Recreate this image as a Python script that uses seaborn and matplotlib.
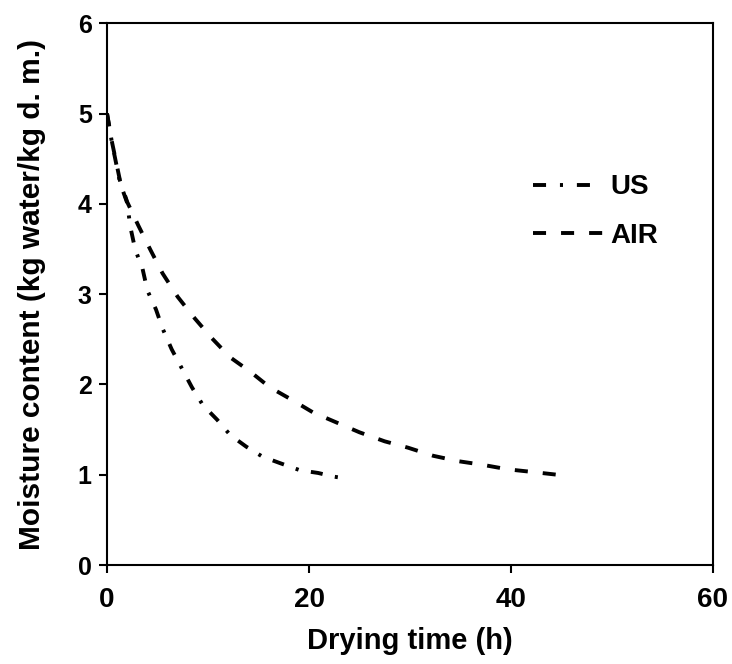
import matplotlib
matplotlib.use("Agg")
import matplotlib.pyplot as plt
from matplotlib.lines import Line2D
import pandas as pd
import seaborn as sns

# drying curves
us_time = [0, 0.5, 1.3, 2.0, 2.3, 2.8, 3.5, 4.0, 4.85, 5.5, 6.4, 7.4, 8.4, 9.5,
           10.9, 12.2, 13.8, 15.4, 17.1, 19.1, 20.9, 22.4, 23.0]
us_moist = [5.0, 4.67, 4.23, 4.01, 3.75, 3.49, 3.29, 3.04, 2.83, 2.62, 2.39, 2.18,
            1.97, 1.77, 1.61, 1.44, 1.31, 1.20, 1.13, 1.05, 1.02, 0.98, 0.97]

air_time = [0, 0.5, 1.3, 2.0, 3.1, 4.3, 5.5, 7.0, 8.7, 10.4, 12.2, 14.2, 16.1,
            18.3, 20.4, 22.7, 25.0, 27.5, 29.8, 32.3, 34.8, 37.2, 39.7, 42.2, 44.6]
air_moist = [5.0, 4.68, 4.25, 4.02, 3.76, 3.49, 3.23, 2.97, 2.73, 2.51, 2.30, 2.14,
             1.97, 1.83, 1.69, 1.58, 1.47, 1.37, 1.30, 1.21, 1.15, 1.11, 1.06, 1.03, 1.00]

x_ticks = [0, 20, 40, 60]
y_ticks = [0, 1, 2, 3, 4, 5, 6]

sns.set_theme(style="ticks")
plt.rcParams["font.family"] = ["Liberation Sans", "DejaVu Sans"]
plt.rcParams["font.weight"] = "bold"
plt.rcParams["text.color"] = "black"
plt.rcParams["axes.labelcolor"] = "black"
plt.rcParams["xtick.color"] = "black"
plt.rcParams["ytick.color"] = "black"
plt.rcParams["lines.scale_dashes"] = False

us_df = pd.DataFrame({"t": us_time, "m": us_moist})
air_df = pd.DataFrame({"t": air_time, "m": air_moist})

fig = plt.figure(figsize=(7.32, 6.64), dpi=100)
ax = fig.add_axes([0.1462, 0.149, 0.8278, 0.816])

lw = 2.8
us_style = (0, (8.6, 9.0, 2.2, 9.0))
air_style = (0, (9.4, 10.8))

sns.lineplot(data=us_df, x="t", y="m", ax=ax, color="black", lw=lw,
             linestyle=us_style, sort=False, estimator=None)
sns.lineplot(data=air_df, x="t", y="m", ax=ax, color="black", lw=lw,
             linestyle=air_style, sort=False, estimator=None)

ax.set_xlim(0, 60)
ax.set_ylim(0, 6)
ax.set_xticks(x_ticks)
ax.set_yticks(y_ticks)
ax.tick_params(axis="both", direction="out", length=6, width=1.5, colors="black")
ax.tick_params(axis="x", pad=10, labelsize=20)
ax.tick_params(axis="y", pad=5, labelsize=18)
for s in ax.spines.values():
    s.set_linewidth(1.5)
    s.set_color("black")

ax.set_xlabel("Drying time (h)", fontsize=21, fontweight="bold", labelpad=10)
ax.set_ylabel("Moisture content (kg water/kg d. m.)", fontsize=21.5,
              fontweight="bold", labelpad=23)

# legend handles use the longer pattern seen in the key
handles = [
    Line2D([], [], color="black", lw=lw, linestyle=(0, (9.4, 10.0, 2.2, 10.0))),
    Line2D([], [], color="black", lw=lw, linestyle=(0, (9.4, 10.8))),
]
ax.legend(handles, ["US", "AIR"], loc="upper left", bbox_to_anchor=(0.703, 0.721),
          frameon=False, fontsize=20, handlelength=2.52, handletextpad=0.25,
          labelspacing=0.82, borderpad=0, borderaxespad=0)

fig.savefig("out.png", dpi=100)
